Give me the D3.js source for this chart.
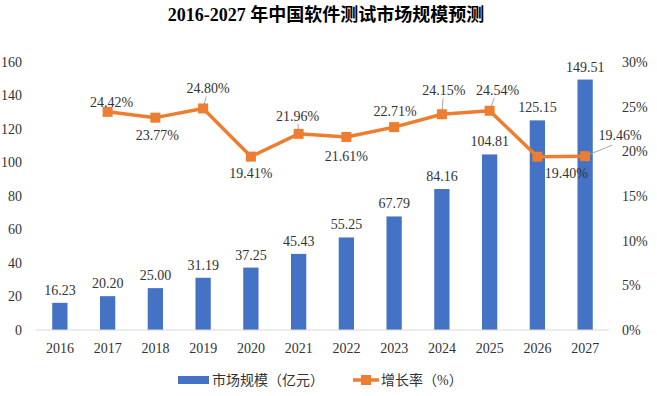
<!DOCTYPE html>
<html>
<head>
<meta charset="utf-8">
<script src="https://cdn.jsdelivr.net/npm/d3@7"></script>
<style>
  body { margin: 0; background: #fff; }
  svg text { font-family: "Liberation Serif", "Times New Roman", "DejaVu Serif", "Noto Sans CJK SC", serif; fill: #333; }
</style>
</head>
<body>
<svg id="chart" width="657" height="396"></svg>
<script>
// 数据
const years = ['2016', '2017', '2018', '2019', '2020', '2021', '2022', '2023', '2024', '2025', '2026', '2027'];
const marketSize = [16.23, 20.20, 25.00, 31.19, 37.25, 45.43, 55.25, 67.79, 84.16, 104.81, 125.15, 149.51];
const growthYears = ['2017', '2018', '2019', '2020', '2021', '2022', '2023', '2024', '2025', '2026', '2027'];
const growthRate = [24.42, 23.77, 24.80, 19.41, 21.96, 21.61, 22.71, 24.15, 24.54, 19.40, 19.46];
const leftTicks = [0, 20, 40, 60, 80, 100, 120, 140, 160];
const rightTicks = [0, 5, 10, 15, 20, 25, 30];

// 增长率标签的位置偏移 [dx, dy, 是否画引线]
const pctLabelOffset = [
  [4, -10, false], [2, 17, false], [5, -20, true], [0, 16, false],
  [-1, -18, true], [0, 19, false], [1, -16, false], [2, -24, true],
  [8, -21, true], [29, 16, false], [35, -21, true]
];

const svg = d3.select('#chart');
const margin = { left: 36, right: 48, top: 62, bottom: 66 };
const width = 657, height = 396;
const bottomY = height - margin.bottom;

const xScale = d3.scaleBand().domain(years).range([margin.left, width - margin.right]).paddingInner(0.68).paddingOuter(0.34);
const yLeft = d3.scaleLinear().domain([0, 160]).range([bottomY, margin.top]);
const yRight = d3.scaleLinear().domain([0, 30]).range([bottomY, margin.top]);

const blue = '#4472C4', orange = '#ED7D31';

// 标题
svg.append('text')
  .attr('x', 326).attr('y', 21)
  .attr('text-anchor', 'middle')
  .attr('font-size', '18px').attr('font-weight', 'bold')
  .style('fill', '#000')
  .text('2016-2027 年中国软件测试市场规模预测');

// 左轴
const gl = svg.append('g').attr('transform', `translate(${margin.left}, 0)`)
  .call(d3.axisLeft(yLeft).tickValues(leftTicks).tickSize(0).tickPadding(14));
gl.select('.domain').remove();
gl.selectAll('.tick text').attr('font-size', '14px');

// 右轴
const gr = svg.append('g').attr('transform', `translate(${width - margin.right}, 0)`)
  .call(d3.axisRight(yRight).tickValues(rightTicks).tickSize(0).tickPadding(13).tickFormat(d => d + '%'));
gr.select('.domain').remove();
gr.selectAll('.tick text').attr('font-size', '14px');

// 柱子
svg.append('g').selectAll('rect')
  .data(marketSize)
  .enter()
  .append('rect')
  .attr('x', (d, i) => xScale(years[i]))
  .attr('y', d => yLeft(d))
  .attr('width', xScale.bandwidth())
  .attr('height', d => bottomY - yLeft(d))
  .attr('fill', blue);

// 柱子数值
svg.append('g').selectAll('text')
  .data(marketSize)
  .enter()
  .append('text')
  .attr('x', (d, i) => xScale(years[i]) + xScale.bandwidth() / 2)
  .attr('y', d => yLeft(d) - 8)
  .attr('text-anchor', 'middle')
  .attr('font-size', '14px')
  .text(d => d.toFixed(2));

// x轴
svg.append('line')
  .attr('x1', margin.left).attr('x2', width - margin.right)
  .attr('y1', bottomY).attr('y2', bottomY)
  .attr('stroke', '#d9d9d9').attr('stroke-width', 1);

const gx = svg.append('g').attr('transform', `translate(0, ${bottomY})`)
  .call(d3.axisBottom(xScale).tickSize(0).tickPadding(13));
gx.select('.domain').remove();
gx.selectAll('.tick text').attr('font-size', '14px');

// 折线
const cx = d => xScale(d) + xScale.bandwidth() / 2;
const lineGenerator = d3.line()
  .x((d, i) => cx(growthYears[i]))
  .y(d => yRight(d));

svg.append('path')
  .attr('d', lineGenerator(growthRate))
  .attr('fill', 'none')
  .attr('stroke', orange)
  .attr('stroke-width', 3.5)
  .attr('stroke-linejoin', 'round');

// 引线
growthRate.forEach((d, i) => {
  const [dx, dy, leader] = pctLabelOffset[i];
  if (!leader) return;
  const x0 = cx(growthYears[i]), y0 = yRight(d);
  const far = dx > 20;
  svg.append('line')
    .attr('x1', x0).attr('y1', y0)
    .attr('x2', far ? x0 + dx - 8 : x0 + dx * 0.6)
    .attr('y2', far ? y0 + dy + 10 : y0 + dy + 8)
    .attr('stroke', '#a6a6a6').attr('stroke-width', 1);
});

// 方形标记
svg.append('g').selectAll('rect')
  .data(growthRate)
  .enter()
  .append('rect')
  .attr('x', (d, i) => cx(growthYears[i]) - 5)
  .attr('y', d => yRight(d) - 5)
  .attr('width', 10).attr('height', 10)
  .attr('fill', orange);

// 增长率标签
svg.append('g').selectAll('text')
  .data(growthRate)
  .enter()
  .append('text')
  .attr('x', (d, i) => cx(growthYears[i]) + pctLabelOffset[i][0])
  .attr('y', (d, i) => yRight(d) + pctLabelOffset[i][1])
  .attr('dy', '0.35em')
  .attr('text-anchor', 'middle')
  .attr('font-size', '14px')
  .text(d => d.toFixed(2) + '%');

// 图例
const legend = svg.append('g').attr('transform', 'translate(0, 380)');
legend.append('rect').attr('x', 178).attr('y', -4).attr('width', 31).attr('height', 8).attr('fill', blue);
legend.append('text').attr('x', 212).attr('y', 0).attr('dy', '0.35em').attr('font-size', '14px').text('市场规模（亿元）');
legend.append('line').attr('x1', 353).attr('x2', 379).attr('y1', 0).attr('y2', 0).attr('stroke', orange).attr('stroke-width', 3.5);
legend.append('rect').attr('x', 361).attr('y', -5).attr('width', 10).attr('height', 10).attr('fill', orange);
legend.append('text').attr('x', 381).attr('y', 0).attr('dy', '0.35em').attr('font-size', '14px').text('增长率（%）');
</script>
</body>
</html>
